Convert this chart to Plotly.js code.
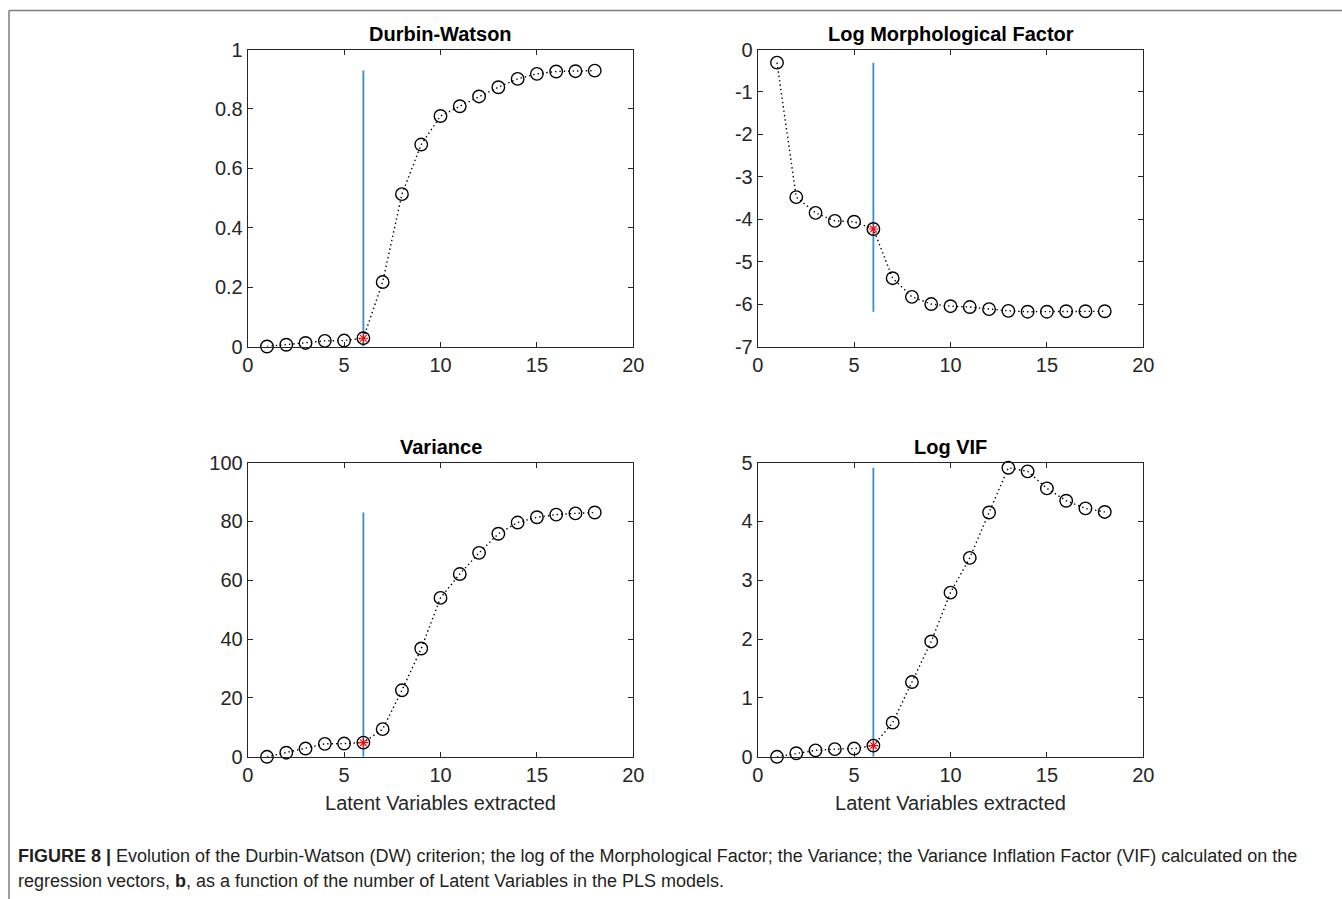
<!DOCTYPE html>
<html>
<head>
<meta charset="utf-8">
<script src="https://cdn.plot.ly/plotly-3.0.1.min.js"></script>
<style>
  html, body { margin: 0; padding: 0; background: #ffffff; }
  #chart { width: 1342px; height: 899px; }
</style>
</head>
<body>
<div id="chart"></div>
<script>
// Number of latent variables in each PLS model
const latentVars = [1, 2, 3, 4, 5, 6, 7, 8, 9, 10, 11, 12, 13, 14, 15, 16, 17, 18];

// Criteria evaluated for each model size
const durbinWatson = [0.000, 0.006, 0.012, 0.019, 0.020, 0.028, 0.217, 0.513, 0.680, 0.776,
                      0.809, 0.842, 0.873, 0.901, 0.918, 0.926, 0.927, 0.929];
const logMorphFactor = [-0.31, -3.48, -3.85, -4.04, -4.06, -4.23, -5.39, -5.83, -6.00, -6.05,
                        -6.07, -6.12, -6.16, -6.18, -6.18, -6.17, -6.17, -6.17];
const variance = [0.0, 1.4, 2.8, 4.4, 4.5, 4.8, 9.4, 22.6, 36.8, 54.0,
                  62.1, 69.3, 75.8, 79.6, 81.4, 82.3, 82.7, 83.0];
const logVIF = [0.00, 0.06, 0.11, 0.13, 0.14, 0.19, 0.58, 1.27, 1.96, 2.79,
                3.38, 4.15, 4.91, 4.85, 4.56, 4.35, 4.22, 4.16];

// Chosen number of latent variables
const selectedLV = 6;

// Panel titles
const panelTitles = ['Durbin-Watson', 'Log Morphological Factor', 'Variance', 'Log VIF'];
const panelSeries = [durbinWatson, logMorphFactor, variance, logVIF];

// Axis ranges and tick labels
const xRange = [0, 20];
const xTickVals = [0, 5, 10, 15, 20];
const xTickText = ['0', '5', '10', '15', '20'];
const yRanges = [[0, 1], [-7, 0], [0, 100], [0, 5]];
const yTickVals = [
  [0, 0.2, 0.4, 0.6, 0.8, 1],
  [-7, -6, -5, -4, -3, -2, -1, 0],
  [0, 20, 40, 60, 80, 100],
  [0, 1, 2, 3, 4, 5]
];
const yTickText = [
  ['0', '0.2', '0.4', '0.6', '0.8', '1'],
  ['-7', '-6', '-5', '-4', '-3', '-2', '-1', '0'],
  ['0', '20', '40', '60', '80', '100'],
  ['0', '1', '2', '3', '4', '5']
];
const xTitle = 'Latent Variables extracted';

const captionBold = 'FIGURE 8 |';
const captionLine1 = ' Evolution of the Durbin-Watson (DW) criterion; the log of the Morphological Factor; the Variance; the Variance Inflation Factor (VIF) calculated on the';
const captionLine2a = 'regression vectors, ';
const captionLine2b = 'b';
const captionLine2c = ', as a function of the number of Latent Variables in the PLS models.';

// Page geometry in pixels
const W = 1342, H = 899;
const px = v => v / W;
const py = v => 1 - v / H;

// Plot boxes: [left, right, top, bottom] in pixels
const boxes = [
  [247.7, 633.3, 49.5, 346.5],
  [757.7, 1143.3, 49.5, 346.5],
  [247.7, 633.3, 462.5, 756.8],
  [757.7, 1143.3, 462.5, 756.8]
];

const axisColor = '#262626';
const fontFamily = '"Liberation Sans", Arial, Helvetica, sans-serif';
const markerBlue = '#3a8dd0';

const traces = [];
const layout = {
  width: W,
  height: H,
  margin: { l: 0, r: 0, t: 0, b: 0 },
  paper_bgcolor: '#ffffff',
  plot_bgcolor: '#ffffff',
  showlegend: false,
  font: { family: fontFamily, color: axisColor, size: 20 },
  annotations: [],
  shapes: []
};

panelSeries.forEach((vals, i) => {
  const n = i + 1;
  const xa = n === 1 ? 'x' : 'x' + n;
  const ya = n === 1 ? 'y' : 'y' + n;
  const [l, r, t, b] = boxes[i];

  const selIdx = latentVars.indexOf(selectedLV);
  const vMin = Math.min(...vals);
  const vMax = Math.max(...vals);

  // vertical marker spanning the range of the series at the chosen model size
  traces.push({
    x: [selectedLV, selectedLV],
    y: [vMin, vMax],
    xaxis: xa, yaxis: ya,
    mode: 'lines',
    line: { color: markerBlue, width: 1.8 },
    hoverinfo: 'skip'
  });

  // criterion curve
  traces.push({
    x: latentVars,
    y: vals,
    xaxis: xa, yaxis: ya,
    mode: 'lines+markers',
    line: { color: '#000000', width: 1.4, dash: '1.4px,3px' },
    marker: { symbol: 'circle-open', size: 12.5, color: '#000000', line: { width: 1.4, color: '#000000' } },
    cliponaxis: false
  });

  // highlighted chosen model
  traces.push({
    x: [selectedLV],
    y: [vals[selIdx]],
    xaxis: xa, yaxis: ya,
    mode: 'markers',
    marker: { symbol: 'asterisk-open', size: 8, color: '#ff0000', line: { width: 1.1, color: '#ff0000' } },
    cliponaxis: false
  });

  const axCommon = {
    showline: true,
    linecolor: axisColor,
    linewidth: 1,
    mirror: 'ticks',
    ticks: 'inside',
    ticklen: 5,
    tickwidth: 1,
    tickcolor: axisColor,
    showgrid: false,
    zeroline: false,
    tickmode: 'array',
    tickfont: { family: fontFamily, size: 20, color: axisColor },
    fixedrange: true
  };

  layout['xaxis' + (n === 1 ? '' : n)] = Object.assign({}, axCommon, {
    domain: [px(l), px(r)],
    anchor: ya,
    range: xRange,
    tickvals: xTickVals,
    ticktext: xTickText,
    title: (i >= 2) ? { text: xTitle, font: { family: fontFamily, size: 20, color: axisColor }, standoff: 11 } : { text: '' }
  });
  layout['yaxis' + (n === 1 ? '' : n)] = Object.assign({}, axCommon, {
    domain: [py(b), py(t)],
    anchor: xa,
    range: yRanges[i],
    tickvals: yTickVals[i],
    ticktext: yTickText[i]
  });

  layout.annotations.push({
    xref: 'paper', yref: 'paper',
    x: px((l + r) / 2), y: py(t - 15.5),
    xanchor: 'center', yanchor: 'middle',
    text: '<b>' + panelTitles[i] + '</b>',
    showarrow: false,
    font: { family: fontFamily, size: 20, color: '#000000' }
  });
});

// caption beneath the figure
layout.annotations.push({
  xref: 'paper', yref: 'paper',
  x: px(16), y: py(856),
  xanchor: 'left', yanchor: 'middle',
  text: '<b>' + captionBold + '</b>' + captionLine1,
  showarrow: false,
  align: 'left',
  font: { family: fontFamily, size: 18, color: '#231f20' }
});
layout.annotations.push({
  xref: 'paper', yref: 'paper',
  x: px(16), y: py(881),
  xanchor: 'left', yanchor: 'middle',
  text: captionLine2a + '<b>' + captionLine2b + '</b>' + captionLine2c,
  showarrow: false,
  align: 'left',
  font: { family: fontFamily, size: 18, color: '#231f20' }
});

// page frame lines (top and left)
layout.shapes.push({
  type: 'line', xref: 'paper', yref: 'paper',
  x0: px(9), x1: 1, y0: py(10.5), y1: py(10.5),
  line: { color: '#7d7d7d', width: 1.5 }
});
layout.shapes.push({
  type: 'line', xref: 'paper', yref: 'paper',
  x0: px(9), x1: px(9), y0: py(10.5), y1: 0,
  line: { color: '#7d7d7d', width: 1.5 }
});

Plotly.newPlot('chart', traces, layout, { displayModeBar: false, staticPlot: true });
</script>
</body>
</html>
